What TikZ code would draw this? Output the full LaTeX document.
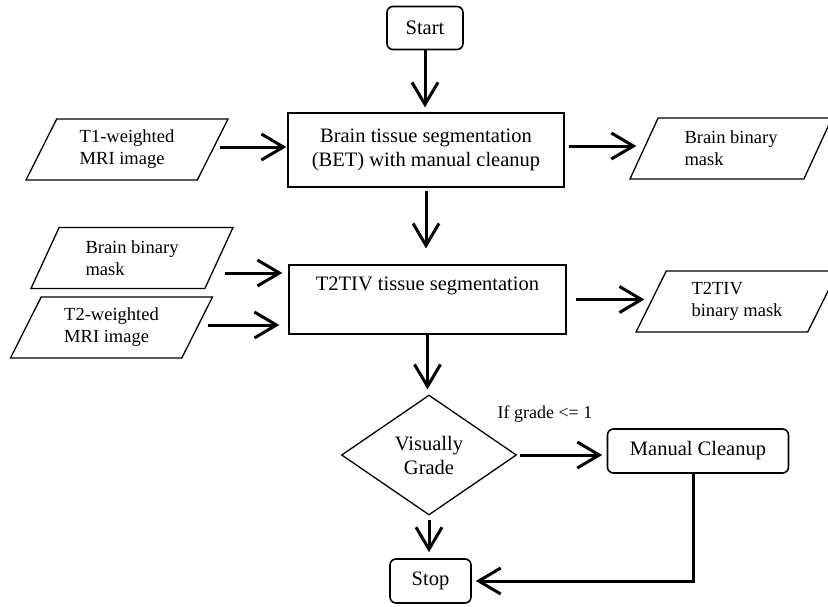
\documentclass[tikz,border=0pt]{standalone}
\usepackage{fontspec}
\setmainfont{Liberation Serif}
\usetikzlibrary{shapes.geometric,arrows.meta}

\begin{document}
\begin{tikzpicture}[x=1pt,y=-1pt,
  every node/.style={font=\fontsize{20.5}{24}\selectfont},
  procbox/.style={draw,line width=1.3pt,rectangle,align=center},
  termbox/.style={draw,line width=1.6pt,rectangle,rounded corners=6pt,align=center},
  iobox/.style={draw,line width=1.3pt,trapezium,trapezium left angle=56,trapezium right angle=124,
    trapezium stretches body=true,minimum width=202pt,minimum height=61pt,align=left,
    font=\fontsize{18.5}{22}\selectfont},
  gradebox/.style={draw,line width=1.3pt,diamond,minimum width=175pt,minimum height=116pt,align=center},
  arr/.style={line width=3pt,-{Straight Barb[length=22pt,width=26pt]}}
]
\useasboundingbox (0,0) rectangle (828,606);
% process column
\node[termbox,minimum width=76pt,minimum height=43pt] (start) at (425,28) {Start};
\node[procbox,minimum width=276pt,minimum height=74pt] (bet) at (426,150)
  {Brain tissue segmentation\\(BET) with manual cleanup};
\node[procbox,minimum width=277pt,minimum height=69pt] (seg) at (427.5,299.5)
  {T2TIV tissue segmentation\\\strut};
\node[gradebox] (grade) at (429,455) {Visually\\Grade};
\node[termbox,minimum width=181pt,minimum height=44pt] (cleanup) at (698,451) {Manual Cleanup};
\node[termbox,minimum width=81pt,minimum height=44pt] (stop) at (430.5,581) {Stop};
% inputs and outputs
\node[iobox] (t1) at (127,149.5) {T1-weighted\\MRI image};
\node[iobox] (bmask) at (731,148.5) {Brain binary\\mask};
\node[iobox] (lmask) at (132,258) {Brain binary\\mask};
\node[iobox] (t2) at (111.5,327.5) {T2-weighted\\MRI image};
\node[iobox] (tmask) at (737,301.5) {T2TIV\\binary mask};
\node[font=\fontsize{18}{21}\selectfont] (cond) at (545,414) {If grade <= 1};
% connectors
\draw[arr,shorten >=5pt] (start.south) -- (start.south |- bet.north);
\draw[arr,shorten <=7pt,shorten >=1pt] ([yshift=2.5pt]t1.east) -- ([yshift=2.5pt]t1.east -| bet.west);
\draw[arr,shorten <=4pt,shorten >=7pt] ([yshift=4pt]bet.east) -- ([yshift=4pt]bet.east -| bmask.west);
\draw[arr,shorten <=3pt,shorten >=16pt] (bet.south) -- (bet.south |- seg.north);
\draw[arr,shorten <=5pt,shorten >=6pt] ([yshift=-15pt]lmask.east) -- ([yshift=-15pt]lmask.east -| seg.west);
\draw[arr,shorten <=10pt,shorten >=9pt] ([yshift=2.5pt]t2.east) -- ([yshift=2.5pt]t2.east -| seg.west);
\draw[arr,shorten <=9pt,shorten >=6pt] (seg.east) -- (seg.east -| tmask.west);
\draw[arr,shorten >=5pt] (seg.south) -- (seg.south |- grade.north);
\draw[arr,shorten <=2.5pt,shorten >=4.5pt] (grade.east) -- (grade.east -| cleanup.west);
\draw[arr,shorten <=4pt,shorten >=6pt] (grade.south) -- (grade.south |- stop.north);
\draw[arr,shorten >=4pt] ([xshift=-5pt]cleanup.south) |- (stop.east);
\end{tikzpicture}
\end{document}
